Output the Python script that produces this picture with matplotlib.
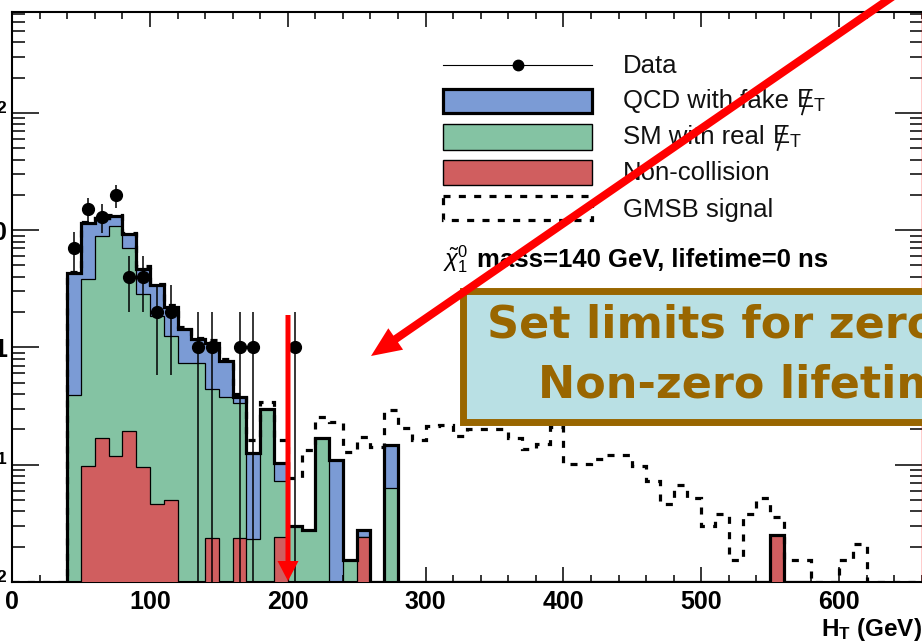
import numpy as np
import matplotlib
matplotlib.use("Agg")
import matplotlib.pyplot as plt
from matplotlib.patches import Rectangle, FancyArrow
from matplotlib.ticker import MultipleLocator, LogLocator, NullFormatter

plt.rcParams['font.family'] = ['Liberation Sans', 'DejaVu Sans']
plt.rcParams['mathtext.fontset'] = 'custom'
plt.rcParams['mathtext.rm'] = 'Liberation Sans'
plt.rcParams['mathtext.it'] = 'Liberation Sans:italic'
plt.rcParams['mathtext.bf'] = 'Liberation Sans:bold'

W, H, DPI = 922, 642, 100

# ---------------- histogram contents (events / 10 GeV of H_T) ----------------
bkg_edges = np.arange(40, 590, 10)          # 40 ... 580 GeV

noncollision = ([0, 0.098, 0.169, 0.119, 0.193, 0.095]                       # 40-100
                + [0.046, 0.050, 0, 0, 0.0235, 0, 0.0235, 0, 0, 0.024]       # 100-200
                + [0, 0, 0, 0, 0, 0.024, 0, 0, 0, 0]                         # 200-300
                + [0] * 10 + [0] * 10                                        # 300-500
                + [0, 0, 0, 0, 0, 0.025, 0, 0])                              # 500-580

sm_real = ([0.39, 3.76, 8.76, 10.78, 6.91, 2.745]
           + [1.80, 1.20, 0.74, 0.74, 0.4165, 0.38, 0.3125, 0.0232, 0.30, 0.049]
           + [0.030, 0.028, 0.169, 0, 0.0155, 0, 0, 0.063, 0, 0]
           + [0] * 10 + [0] * 10
           + [0] * 8)

qcd_fake = ([3.91, 7.74, 3.67, 2.30, 2.15, 1.86]
            + [1.55, 0.95, 0.69, 0.43, 0.66, 0.38, 0.044, 0.103, 0, 0.031]
            + [0, 0, 0, 0.110, 0, 0.004, 0, 0.085, 0, 0]
            + [0] * 10 + [0] * 10
            + [0] * 8)

gmsb_edges = np.arange(0, 670, 10)          # 0 ... 660 GeV
gmsb_line = ([0, 0, 0, 0, 4.4, 11.8, 12.8, 13.4, 9.4, 4.9]
             + [3.5, 2.3, 1.5, 1.2, 1.15, 0.8, 0.40, 0.164, 0.34, 0.164]
             + [0.077, 0.134, 0.254, 0.233, 0.128, 0.171, 0.142, 0.295, 0.207, 0.164]
             + [0.215, 0.219, 0.177, 0.203, 0.203, 0.203, 0.170, 0.136, 0.150, 0.210]
             + [0.102, 0.102, 0.112, 0.122, 0.122, 0.098, 0.073, 0.046, 0.0666, 0.052]
             + [0.030, 0.038, 0.0154, 0.038, 0.052, 0.036, 0.0154, 0.0154, 0, 0]
             + [0.0154, 0.021, 0, 0, 0, 0])

data_ht = [45, 55, 65, 75, 85, 95, 105, 115, 135, 145, 165, 175, 205]
data_n = [7, 15, 13, 20, 4, 4, 2, 2, 1, 1, 1, 1, 1]

legend_labels = ["Data", "QCD with fake", "SM with real", "Non-collision", "GMSB signal"]
signal_note = "mass=140 GeV, lifetime=0 ns"
xtick_vals = [0, 100, 200, 300, 400, 500, 600]
ytick_vals = [1e-2, 1e-1, 1, 10, 100]
ytick_text = [r"$\mathbf{10^{-2}}$", r"$\mathbf{10^{-1}}$", "1", "10", r"$\mathbf{10^{2}}$"]

C_QCD = "#7b9bd5"
C_SM = "#84c3a3"
C_NC = "#d05e5f"
BROWN = "#996600"
BOXFILL = "#b9e0e4"

# ---------------- main frame ----------------
fig = plt.figure(figsize=(W / DPI, H / DPI), dpi=DPI)
ax = fig.add_axes([12.2 / W, (H - 582) / H, 909.5 / W, 570 / H])
ax.set_yscale('log')
ymin, ymax = 0.01, 10 ** 2.86
ax.set_xlim(0, 660)
ax.set_ylim(ymin, ymax)

red = np.array(noncollision)
green = red + np.array(sm_real)
total = green + np.array(qcd_fake)


def floor(v):
    return np.clip(v, ymin, None)


ax.stairs(floor(total), bkg_edges, baseline=ymin, fill=True, color=C_QCD, lw=0, zorder=1)
ax.stairs(floor(green), bkg_edges, baseline=ymin, fill=True, color=C_SM, lw=0, zorder=2)
ax.stairs(floor(green), bkg_edges, baseline=ymin, color='k', lw=0.9, zorder=3)
ax.stairs(floor(red), bkg_edges, baseline=ymin, fill=True, color=C_NC, lw=0, zorder=4)
ax.stairs(floor(red), bkg_edges, baseline=ymin, color='k', lw=0.9, zorder=5)
ax.stairs(floor(total), bkg_edges, baseline=ymin, color='k', lw=2.3, zorder=6)
ax.stairs(floor(np.array(gmsb_line)), gmsb_edges, baseline=ymin, color='k', lw=2.3,
          linestyle=(0, (2.2, 2.6)), zorder=7)

n = np.array(data_n, float)
err = np.sqrt(n)
lo = np.clip(n - err, 1e-4, None)
ax.vlines(data_ht, lo, n + err, color='k', lw=1.1, zorder=8)
ax.plot(data_ht, n, 'o', color='k', ms=8.5, zorder=9)

ax.set_xticks(xtick_vals)
ax.set_xticklabels([str(v) for v in xtick_vals], fontweight='bold')
ax.xaxis.set_minor_locator(MultipleLocator(20))
ax.set_yticks(ytick_vals)
ax.set_yticklabels(ytick_text, fontweight='bold')
ax.yaxis.set_minor_locator(LogLocator(base=10, subs=range(2, 10)))
ax.yaxis.set_minor_formatter(NullFormatter())
ax.tick_params(which='both', direction='in', top=True, right=True, width=1.1)
ax.tick_params(axis='x', which='major', length=10.8, labelsize=18, pad=6)
ax.tick_params(axis='x', which='minor', length=5.2)
ax.tick_params(axis='y', which='major', length=19.5, labelsize=18, pad=3.5)
ax.tick_params(axis='y', which='minor', length=9)
for side in ax.spines.values():
    side.set_linewidth(1.5)
ax.spines['right'].set_color('red')
ax.spines['right'].set_linewidth(1.0)

ax.text(1.0, -0.095, r"$\mathbf{H_{T}}$ (GeV)", transform=ax.transAxes, ha='right',
        va='baseline', fontsize=17.5, fontweight='bold')

# ---------------- legend and annotations (pixel overlay) ----------------
ov = fig.add_axes([0, 0, 1, 1], facecolor='none')
ov.set_xlim(0, W)
ov.set_ylim(H, 0)
ov.axis('off')

LX0, LX1 = 443, 591.5
ov.plot([LX0, LX1], [65, 65], color='k', lw=0.8)
ov.plot([517.5], [65], 'o', color='k', ms=7.5)
ov.add_patch(Rectangle((LX0, 88.5), LX1 - LX0, 24, facecolor=C_QCD, edgecolor='k', lw=2.3))
ov.add_patch(Rectangle((LX0, 124), LX1 - LX0, 26, facecolor=C_SM, edgecolor='k', lw=1.0))
ov.add_patch(Rectangle((LX0, 160), LX1 - LX0, 25, facecolor=C_NC, edgecolor='k', lw=1.0))
ov.add_patch(Rectangle((LX0, 196), LX1 - LX0, 24, facecolor='none', edgecolor='k', lw=2.3,
                       linestyle=(0, (2.2, 2.6))))

baselines = [73.3, 108.3, 144.0, 180.0, 216.7]
renderer = fig.canvas.get_renderer()
for label, yb in zip(legend_labels, baselines):
    t = ov.text(623, yb, label, fontsize=18.5, va='baseline', color='#111111')
    if label.endswith("fake") or label.endswith("real"):
        bb = t.get_window_extent(renderer)
        xe = bb.x1 + 7
        ov.text(xe, yb, r"$\mathrm{E}_{\mathrm{T}}$", fontsize=18.5, va='baseline', color='#111111')
        ov.plot([xe + 6, xe + 13], [yb + 6, yb - 18], color='#111111', lw=1.3)

ov.text(443, 266.7, r"$\tilde{\chi}_{1}^{0}$", fontsize=17, va='baseline')
ov.text(477, 266.7, signal_note, fontsize=18.5, fontweight='bold', va='baseline')

# highlighted message box
ov.add_patch(Rectangle((462.8, 290.8), 480, 131.5, facecolor=BOXFILL, edgecolor=BROWN, lw=5.0,
                       zorder=10))
ov.text(487, 338, "Set limits for zero", fontsize=32, fontweight='bold', color=BROWN,
        family='DejaVu Sans', va='baseline', zorder=11)
ov.text(538, 398, "Non-zero lifetime", fontsize=32, fontweight='bold', color=BROWN,
        family='DejaVu Sans', va='baseline', zorder=11)

# red arrows
ov.add_patch(FancyArrow(895, -5, 371 - 895, 356 + 5, width=8, head_width=26, head_length=30,
                        length_includes_head=True, color='#ff0000', lw=0, zorder=12))
ov.add_patch(FancyArrow(288, 315, 0, 581 - 315, width=5, head_width=21, head_length=20,
                        length_includes_head=True, color='#ff0000', lw=0, zorder=12))

fig.savefig("out.png", dpi=DPI)
